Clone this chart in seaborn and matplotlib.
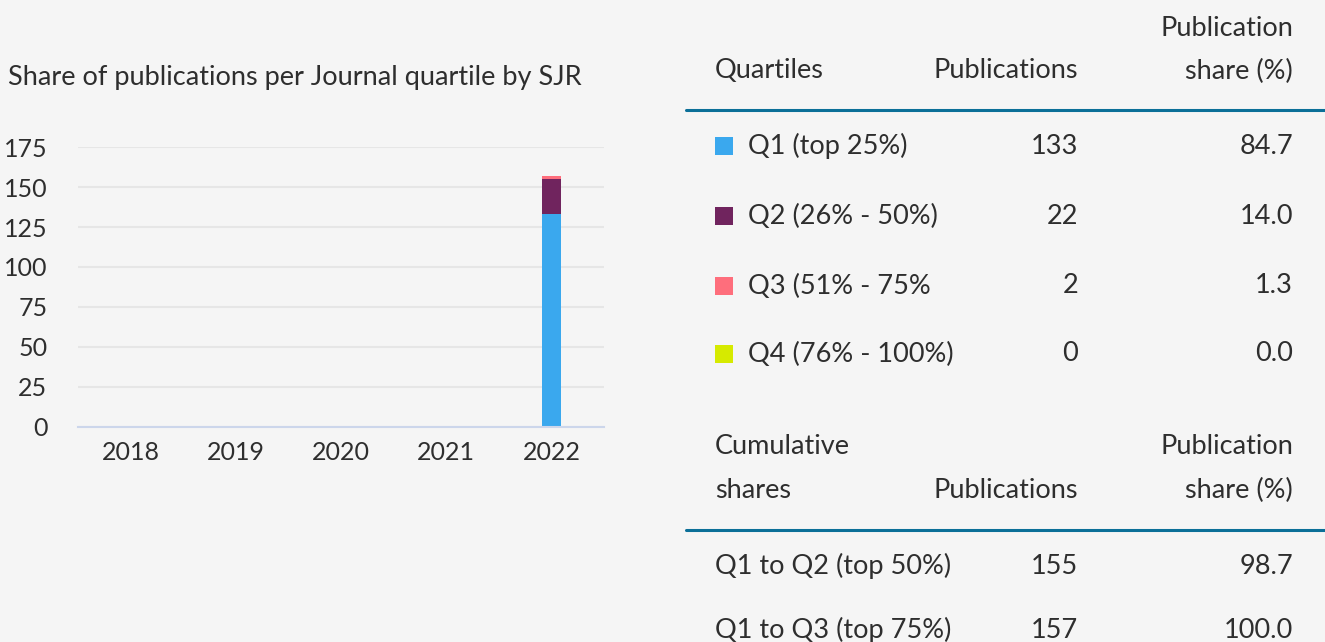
import matplotlib
matplotlib.use("Agg")
import matplotlib.pyplot as plt
import seaborn as sns
import pandas as pd
from matplotlib.patches import Rectangle

# ---- data ----
years = [2018, 2019, 2020, 2021, 2022]
q1 = [0, 0, 0, 0, 133]
q2 = [0, 0, 0, 0, 22]
q3 = [0, 0, 0, 0, 2]
q4 = [0, 0, 0, 0, 0]
quartile_labels = ["Q1 (top 25%)", "Q2 (26% - 50%)", "Q3 (51% - 75%", "Q4 (76% - 100%)"]
quartile_pubs = ["133", "22", "2", "0"]
quartile_share = ["84.7", "14.0", "1.3", "0.0"]
cum_labels = ["Q1 to Q2 (top 50%)", "Q1 to Q3 (top 75%)"]
cum_pubs = ["155", "157"]
cum_share = ["98.7", "100.0"]
yticks = [0, 25, 50, 75, 100, 125, 150, 175]

colors = {"Q1": "#3aa8ee", "Q2": "#70245e", "Q3": "#fe6e7c", "Q4": "#d6ea00"}
bg = "#f5f5f5"
txt = "#2e2e2e"

sns.set_theme(style="white")
plt.rcParams["font.family"] = ["Lato", "DejaVu Sans"]

rows = []
for i, y in enumerate(years):
    for q, vals in zip(["Q1", "Q2", "Q3", "Q4"], [q1, q2, q3, q4]):
        rows.append({"year": y, "quartile": q, "n": vals[i]})
df = pd.DataFrame(rows)

W, H = 1325, 642
fig = plt.figure(figsize=(W / 100, H / 100), dpi=100, facecolor=bg)
ax = fig.add_axes([78 / W, 1 - 427 / H, (604 - 78) / W, (427 - 147) / H], facecolor=bg)

sns.histplot(data=df, x="year", weights="n", hue="quartile",
             hue_order=["Q4", "Q3", "Q2", "Q1"], multiple="stack", discrete=True,
             shrink=0.18, palette=colors, linewidth=0, alpha=1, legend=False, ax=ax)

ax.set_xlim(years[0] - 0.5, years[-1] + 0.5)
ax.set_ylim(0, 175)
ax.set_yticks(yticks)
ax.set_xticks(years)
ax.set_xticklabels([str(y) for y in years])
ax.yaxis.grid(True, color="#e6e6e6", linewidth=1.5)
ax.set_axisbelow(True)
for s in ["top", "right", "left"]:
    ax.spines[s].set_visible(False)
ax.spines["bottom"].set_color("#ccd6eb")
ax.spines["bottom"].set_linewidth(1.5)
ax.tick_params(axis="both", length=0, labelsize=18, colors=txt)
ax.tick_params(axis="y", pad=22)
ax.tick_params(axis="x", pad=10)
ax.set_xlabel("")
ax.set_ylabel("")

def fx(px):
    return px / W

def fy(py):
    return 1 - py / H

fs = 19.5
fig.text(fx(8), fy(77), "Share of publications per Journal quartile by SJR",
         fontsize=fs, color=txt, va="center", ha="left")

# table 1 header
fig.text(fx(715), fy(71), "Quartiles", fontsize=fs, color=txt, va="center")
fig.text(fx(1078), fy(71), "Publications", fontsize=fs, color=txt, va="center", ha="right")
fig.text(fx(1293), fy(28), "Publication", fontsize=fs, color=txt, va="center", ha="right")
fig.text(fx(1293), fy(71), "share (%)", fontsize=fs, color=txt, va="center", ha="right")
fig.add_artist(plt.Line2D([fx(686), 1], [fy(110), fy(110)], color="#0b6f98", linewidth=2.2))

row_y = [146, 216, 286, 354]
for i, (lab, p, s, q) in enumerate(zip(quartile_labels, quartile_pubs, quartile_share,
                                       ["Q1", "Q2", "Q3", "Q4"])):
    y = row_y[i]
    fig.add_artist(Rectangle((fx(715), fy(y + 9)), 18 / W, 18 / H,
                             transform=fig.transFigure, color=colors[q], linewidth=0))
    fig.text(fx(748), fy(y), lab, fontsize=fs, color=txt, va="center")
    fig.text(fx(1078), fy(y), p, fontsize=fs, color=txt, va="center", ha="right")
    fig.text(fx(1293), fy(y), s, fontsize=fs, color=txt, va="center", ha="right")

# table 2 header
fig.text(fx(715), fy(446), "Cumulative", fontsize=fs, color=txt, va="center")
fig.text(fx(715), fy(490), "shares", fontsize=fs, color=txt, va="center")
fig.text(fx(1078), fy(490), "Publications", fontsize=fs, color=txt, va="center", ha="right")
fig.text(fx(1293), fy(446), "Publication", fontsize=fs, color=txt, va="center", ha="right")
fig.text(fx(1293), fy(490), "share (%)", fontsize=fs, color=txt, va="center", ha="right")
fig.add_artist(plt.Line2D([fx(686), 1], [fy(530), fy(530)], color="#0b6f98", linewidth=2.2))

cum_y = [566, 630]
for i, (lab, p, s) in enumerate(zip(cum_labels, cum_pubs, cum_share)):
    y = cum_y[i]
    fig.text(fx(715), fy(y), lab, fontsize=fs, color=txt, va="center")
    fig.text(fx(1078), fy(y), p, fontsize=fs, color=txt, va="center", ha="right")
    fig.text(fx(1293), fy(y), s, fontsize=fs, color=txt, va="center", ha="right")

fig.savefig("out.png", dpi=100, facecolor=bg)
